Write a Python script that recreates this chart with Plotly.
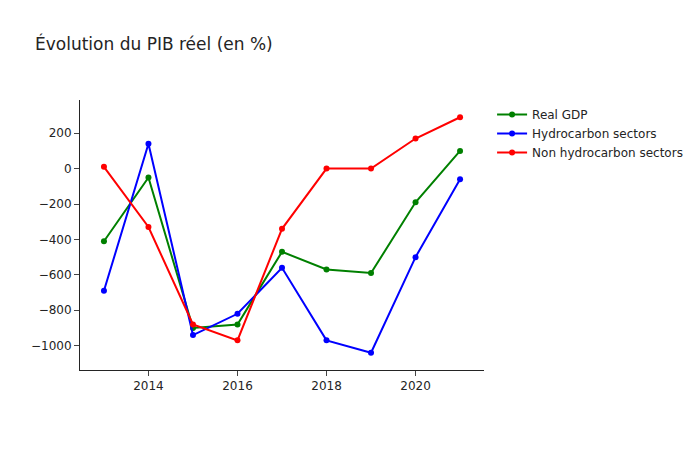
import plotly.graph_objects as go

years = [2013, 2014, 2015, 2016, 2017, 2018, 2019, 2020, 2021]
real_gdp = [-410, -50, -900, -880, -470, -570, -590, -190, 100]
hydrocarbon = [-690, 140, -940, -820, -560, -970, -1040, -500, -60]
non_hydrocarbon = [10, -330, -880, -970, -340, 0, 0, 170, 290]

fig = go.Figure()
fig.add_trace(go.Scatter(x=years, y=real_gdp, mode="lines+markers",
                         name="Real GDP", line=dict(color="green")))
fig.add_trace(go.Scatter(x=years, y=hydrocarbon, mode="lines+markers",
                         name="Hydrocarbon sectors", line=dict(color="blue")))
fig.add_trace(go.Scatter(x=years, y=non_hydrocarbon, mode="lines+markers",
                         name="Non hydrocarbon sectors", line=dict(color="red")))

fig.update_layout(
    template="simple_white",
    title="Évolution du PIB réel (en %)",
    font=dict(family="Verdana, DejaVu Sans, sans-serif"),
    width=700,
    height=450,
)

# page body without margin so the figure sits at the window corner
fig.write_html(
    "out.html",
    config={"displayModeBar": False},
    post_script="document.body.style.margin='0';",
)
